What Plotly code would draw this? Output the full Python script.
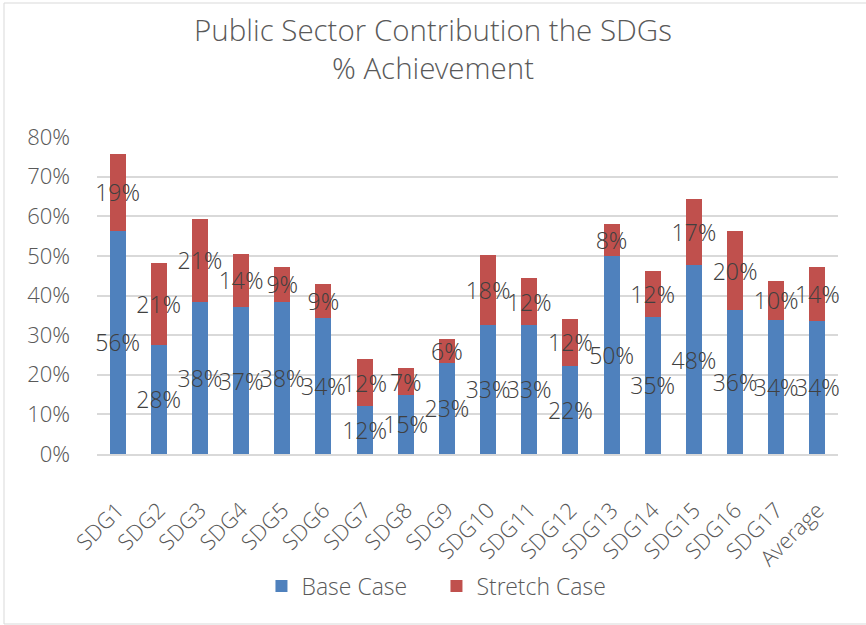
import plotly.graph_objects as go

categories = ["SDG1", "SDG2", "SDG3", "SDG4", "SDG5", "SDG6", "SDG7", "SDG8", "SDG9",
              "SDG10", "SDG11", "SDG12", "SDG13", "SDG14", "SDG15", "SDG16", "SDG17", "Average"]
base_case = [0.564, 0.276, 0.384, 0.370, 0.383, 0.343, 0.120, 0.149, 0.230,
             0.326, 0.326, 0.223, 0.500, 0.346, 0.476, 0.363, 0.339, 0.336]
stretch_case = [0.194, 0.207, 0.210, 0.136, 0.090, 0.087, 0.119, 0.067, 0.059,
                0.176, 0.117, 0.118, 0.081, 0.116, 0.167, 0.199, 0.098, 0.137]
y_ticks = [0, 0.1, 0.2, 0.3, 0.4, 0.5, 0.6, 0.7, 0.8]

FONT = "Open Sans Light, Open Sans"
GRAY = "#595959"
LABEL = "#404040"

fig = go.Figure()
for name, vals, color in [("Base Case", base_case, "#4F81BD"),
                          ("Stretch Case", stretch_case, "#C0504D")]:
    fig.add_trace(go.Bar(
        name=name, x=categories, y=vals,
        marker=dict(color=color, line=dict(width=0)),
        texttemplate="%{y:.0%}", textposition="inside", insidetextanchor="middle",
        textangle=0, constraintext="none", cliponaxis=False,
        textfont=dict(family=FONT, size=23, color=LABEL, weight=300),
    ))

W, H = 866, 625
L, R, T, B = 97, 28, 137, 171
pw, ph = W - L - R, H - T - B

fig.update_layout(
    width=W, height=H, barmode="stack", bargap=0.61,
    margin=dict(l=L, r=R, t=T, b=B, autoexpand=False),
    paper_bgcolor="white", plot_bgcolor="white",
    font=dict(family=FONT, color=GRAY, weight=300),
    title=dict(text="Public Sector Contribution the SDGs<br>% Achievement",
               x=0.5, xref="container", xanchor="center",
               y=1 - 41 / H, yref="container", yanchor="top",
               font=dict(family=FONT, size=29.5, color=GRAY, weight=300)),
    legend=dict(orientation="h", x=0.504, xref="container", xanchor="center",
                y=1 - 586 / H, yref="container", yanchor="middle",
                font=dict(family=FONT, size=23, color=GRAY, weight=300),
                itemwidth=30, traceorder="normal",
                entrywidth=130, entrywidthmode="pixels"),
    yaxis=dict(range=[0, 0.8], tickvals=y_ticks, tickformat=".0%",
               showgrid=True, gridcolor="#D9D9D9", gridwidth=1.5,
               zeroline=False, showline=False, ticks="",
               tickfont=dict(family=FONT, size=22, color=GRAY, weight=300),
               ticklabelstandoff=26),
    xaxis=dict(tickangle=-45, showline=True, linecolor="#D9D9D9", linewidth=1.5,
               ticks="", ticklabelstandoff=33,
               tickfont=dict(family=FONT, size=22, color=GRAY, weight=300)),
    shapes=[dict(type="rect", xref="paper", yref="paper",
                 x0=(4 - L) / pw, x1=(W + 5 - L) / pw,
                 y0=(T + ph - 624) / ph, y1=(T + ph - 3) / ph,
                 line=dict(color="#D9D9D9", width=1), fillcolor="rgba(0,0,0,0)",
                 layer="below")],
)

fig.write_html("out.html", config={"displayModeBar": False},
               post_script="document.body.style.margin='0';")
